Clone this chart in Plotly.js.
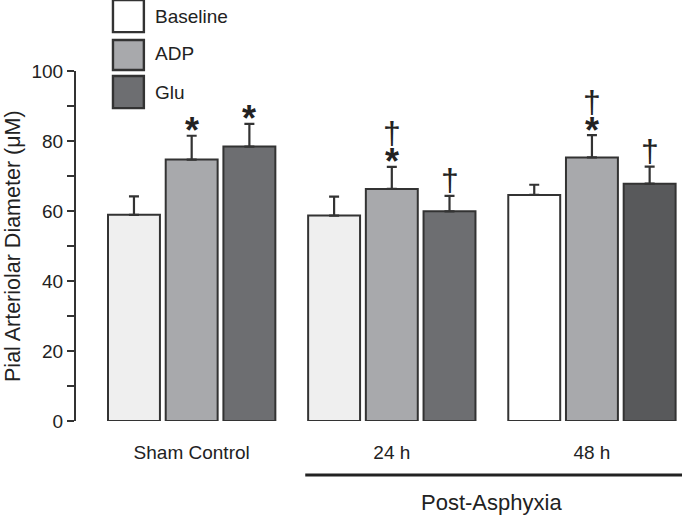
<!DOCTYPE html>
<html>
<head>
<meta charset="utf-8">
<script src="https://cdn.plot.ly/plotly-3.0.1.min.js"></script>
<style>html,body{margin:0;padding:0;background:#fff;}#chart{width:682px;height:517px;}</style>
</head>
<body>
<div id="chart"></div>
<script>
// ---- data ----
const categories = ["Sham Control", "24 h", "48 h"];
const seriesNames = ["Baseline", "ADP", "Glu"];
const baselineVals = [58.9, 58.7, 64.6];
const baselineErr = [5.3, 5.4, 2.9];
const adpVals = [74.7, 66.3, 75.3];
const adpErr = [6.8, 6.3, 6.4];
const gluVals = [78.4, 59.9, 67.8];
const gluErr = [6.5, 4.4, 4.9];
// significance markers: * vs baseline, † vs sham
const baselineStar = [false, false, false];
const baselineDagger = [false, false, false];
const adpStar = [true, true, true];
const adpDagger = [false, true, true];
const gluStar = [true, false, false];
const gluDagger = [false, true, true];
const groupLabel = "Post-Asphyxia";
const yTitle = "Pial Arteriolar Diameter (\u03bcM)";

// ---- style ----
const FONT = "Liberation Sans, Arial, Helvetica, sans-serif";
const EDGE = "#333333";
const baselineColors = ["#efefef", "#efefef", "#ffffff"];
const adpColors = ["#a8a9ac", "#a8a9ac", "#a8a9ac"];
const gluColors = ["#6d6e71", "#6d6e71", "#58595b"];
const legendColors = ["#ffffff", "#a8a9ac", "#6d6e71"];
const BARGAP = 0.135, GROUPGAP = 0.1;

function barTrace(name, vals, err, colors) {
  return {
    type: "bar", name: name, x: categories, y: vals,
    marker: { color: colors, line: { color: EDGE, width: 2 } },
    error_y: { type: "data", symmetric: false, array: err, arrayminus: err.map(() => 0),
               color: EDGE, thickness: 2.2, width: 5 },
    showlegend: false, hoverinfo: "skip"
  };
}
const traces = [
  barTrace(seriesNames[0], baselineVals, baselineErr, baselineColors),
  barTrace(seriesNames[1], adpVals, adpErr, adpColors),
  barTrace(seriesNames[2], gluVals, gluErr, gluColors)
];

// marker annotations
const annotations = [];
const slot = (1 - BARGAP) / 3;
const allVals = [baselineVals, adpVals, gluVals];
const allErr = [baselineErr, adpErr, gluErr];
const allStar = [baselineStar, adpStar, gluStar];
const allDagger = [baselineDagger, adpDagger, gluDagger];
const STAR = "<span style='font-size:36px'><b>*</b></span>";
const DAG = "<span style='font-size:32px'>\u2020</span>";
for (let s = 0; s < 3; s++) {
  for (let i = 0; i < categories.length; i++) {
    const xpos = i + (s - 1) * slot;
    const ytop = allVals[s][i] + allErr[s][i];
    const st = allStar[s][i], dg = allDagger[s][i];
    if (!st && !dg) continue;
    let text, size, shift;
    if (st && dg) { text = DAG + "<br>" + STAR; size = 23; shift = 18; }
    else if (st) { text = STAR; size = 36; shift = 5; }
    else { text = DAG; size = 32; shift = 16; }
    annotations.push({ x: xpos, y: ytop, xref: "x", yref: "y", text: text, showarrow: false,
      yanchor: "middle", yshift: shift, borderpad: 0, font: { family: FONT, size: size, color: "#222" } });
  }
}
// y title
annotations.push({ x: -0.104, y: 0.5, xref: "paper", yref: "paper", text: yTitle, showarrow: false,
  textangle: -90, xanchor: "center", yanchor: "middle", font: { family: FONT, size: 21.5, color: "#222" } });
// group label
annotations.push({ x: 1.5, y: -0.234, xref: "x", yref: "paper", text: groupLabel, showarrow: false,
  yanchor: "middle", font: { family: FONT, size: 22, color: "#222" } });
// legend text
const legY = [1.157, 1.049, 0.940];
for (let k = 0; k < 3; k++) {
  annotations.push({ x: 0.127, y: legY[k], xref: "paper", yref: "paper", text: seriesNames[k],
    showarrow: false, xanchor: "left", yanchor: "middle", font: { family: FONT, size: 19, color: "#222" } });
}
const shapes = [];
const legBoxes = [[1.203, 1.111], [1.0886, 1.0029], [0.9857, 0.894]];
for (let k = 0; k < 3; k++) {
  shapes.push({ type: "rect", xref: "paper", yref: "paper", x0: 0.061, x1: 0.112,
    y0: legBoxes[k][1], y1: legBoxes[k][0], fillcolor: legendColors[k], line: { color: EDGE, width: 2.4 } });
}
shapes.push({ type: "line", xref: "x", yref: "paper", x0: 1 - (1 - BARGAP) / 2, x1: 2.45,
  y0: -0.154, y1: -0.154, line: { color: "#222", width: 3 } });

const layout = {
  width: 682, height: 517,
  margin: { l: 76, r: 0, t: 71, b: 96, pad: 0 },
  paper_bgcolor: "#ffffff", plot_bgcolor: "#ffffff",
  barmode: "group", bargap: BARGAP, bargroupgap: GROUPGAP,
  font: { family: FONT, size: 19, color: "#222" },
  xaxis: { type: "category", range: [-0.578, 2.45], showline: false, showgrid: false, zeroline: false,
    ticks: "", ticklabelstandoff: 18, tickfont: { family: FONT, size: 19, color: "#222" } },
  yaxis: { range: [0, 100], dtick: 20, showline: true, linecolor: EDGE, linewidth: 2,
    ticks: "outside", ticklen: 7, tickwidth: 2, tickcolor: EDGE, showgrid: false, zeroline: false,
    minor: { dtick: 10, ticks: "outside", ticklen: 7, tickwidth: 2, tickcolor: EDGE },
    tickfont: { family: FONT, size: 19, color: "#222" } },
  annotations: annotations, shapes: shapes
};
Plotly.newPlot("chart", traces, layout, { staticPlot: true });
</script>
</body>
</html>
